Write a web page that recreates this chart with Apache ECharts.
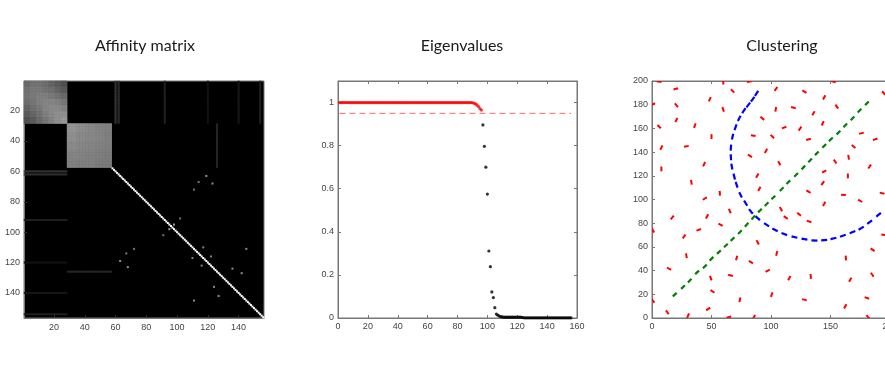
<!DOCTYPE html>
<html>
<head>
<meta charset="utf-8">
<script src="https://cdn.jsdelivr.net/npm/echarts@6/dist/echarts.min.js"></script>
<style>
  html, body { margin: 0; padding: 0; background: #fff; }
  #chart { width: 885px; height: 376px; }
</style>
</head>
<body>
<div id="chart"></div>
<script>
// ---------- affinity matrix (156 x 156, symmetric) ----------
var matrixSize = 156;
// block A: rows/cols 1..28, coarse 7x7 grey levels (each covers 4x4 cells)
var blockA = [1, 28];
var blockAGrid = [
  [0.42, 0.45, 0.46, 0.44, 0.40, 0.36, 0.32],
  [0.45, 0.48, 0.48, 0.46, 0.44, 0.40, 0.36],
  [0.46, 0.48, 0.50, 0.50, 0.48, 0.45, 0.42],
  [0.44, 0.46, 0.50, 0.52, 0.52, 0.50, 0.47],
  [0.40, 0.44, 0.48, 0.52, 0.54, 0.54, 0.52],
  [0.36, 0.40, 0.45, 0.50, 0.54, 0.57, 0.57],
  [0.32, 0.36, 0.42, 0.47, 0.52, 0.57, 0.60]
];
// block B: rows/cols 29..57, coarse grey levels
var blockB = [29, 57];
var blockBGrid = [
  [0.58, 0.56, 0.54, 0.52, 0.51],
  [0.56, 0.54, 0.53, 0.52, 0.50],
  [0.54, 0.53, 0.52, 0.51, 0.50],
  [0.52, 0.52, 0.51, 0.50, 0.49],
  [0.51, 0.50, 0.50, 0.49, 0.49]
];
// singletons on the diagonal
var diagonalRange = [58, 156];
var diagonalValue = 1;
// isolated off-diagonal affinities [i, j, value]
var offDiagonal = [
  [63, 119, 0.55], [67, 114, 0.45], [68, 123, 0.55], [72, 111, 0.45],
  [91, 102, 0.45], [95, 98, 0.6], [110, 117, 0.5], [116, 122, 0.5],
  [124, 136, 0.55], [127, 142, 0.55], [111, 145, 0.55]
];
// faint lines [row, fromCol, toCol, value]
var faintLines = [
  [60, 1, 28, 0.2], [62, 1, 28, 0.18], [92, 1, 28, 0.12], [120, 1, 28, 0.07],
  [126, 29, 57, 0.15], [140, 1, 28, 0.09], [154, 1, 28, 0.12]
];

// ---------- eigenvalues ----------
var eigenRed = [
  1, 1, 1, 1, 1, 1, 1, 1, 1, 1, 1, 1, 1, 1, 1, 1, 1, 1, 1, 1,
  1, 1, 1, 1, 1, 1, 1, 1, 1, 1, 1, 1, 1, 1, 1, 1, 1, 1, 1, 1,
  1, 1, 1, 1, 1, 1, 1, 1, 1, 1, 1, 1, 1, 1, 1, 1, 1, 1, 1, 1,
  1, 1, 1, 1, 1, 1, 1, 1, 1, 1, 1, 1, 1, 1, 1, 1, 1, 1, 1, 1,
  1, 1, 1, 1, 1, 1, 1, 1, 1, 0.999, 0.997, 0.994, 0.989, 0.982, 0.972, 0.965
];
var eigenBlack = [
  0.896, 0.797, 0.700, 0.575, 0.311, 0.238, 0.121, 0.095, 0.048, 0.018,
  0.013, 0.009, 0.006, 0.005, 0.004, 0.004, 0.004, 0.004, 0.004, 0.004,
  0.004, 0.004, 0.004, 0.004, 0.004, 0.004, 0.003, 0.002, 0.001, 0.001,
  0.001, 0.001, 0.001, 0.001, 0.001, 0.001, 0.001, 0.001, 0.001, 0.001,
  0.001, 0.001, 0.001, 0.001, 0.001, 0.001, 0.001, 0.001, 0.001, 0.001,
  0.001, 0.001, 0.001, 0.001, 0.001, 0.001, 0.001, 0.001, 0.001, 0.001
];
var thresholdX = [1, 156];
var thresholdValue = 0.95;

// ---------- clustering: oriented line elements ----------
// red: [x, y, angle in degrees]
var noiseSegments = [
  [6, 199.4, 170], [59.8, 199, 100], [81.7, 199.4, 10], [152.5, 199.4, 165],
  [20, 193.3, 15], [67.7, 191.6, 135], [104.2, 193.3, 55], [128.1, 191, 150],
  [144.7, 186.2, 60], [194.7, 189.8, 130], [0.8, 180.3, 30], [20.5, 179.5, 130],
  [48.6, 184.6, 65], [59.8, 176.1, 110], [92.7, 168.5, 140], [104, 176.1, 80],
  [118.8, 177.5, 165], [135.7, 172.8, 60], [155.3, 178.4, 125], [6, 161.5, 135],
  [20.5, 167.1, 65], [36, 162.4, 70], [50, 153.1, 90], [7.9, 143.8, 60],
  [28.9, 144.9, 10], [85.1, 153.9, 170], [101.1, 153.1, 135], [111, 160.7, 20],
  [124.4, 159.8, 55], [131.5, 150.8, 15], [143.5, 164.3, 65], [176, 155.9, 15],
  [187.6, 150.8, 20], [7.9, 125.8, 90], [33.1, 114.6, 100], [43.8, 129.8, 65],
  [82.3, 136.8, 150], [95.8, 141, 60], [107, 130.6, 120], [144.7, 123.6, 30],
  [153.9, 132, 125], [165.2, 135.7, 100], [169.4, 144.7, 140], [182.9, 127.8, 55],
  [88.5, 120.2, 60], [90.2, 109, 60], [131.5, 106.7, 150], [143.5, 113.8, 55],
  [164.6, 119.9, 90], [160.9, 103.9, 175], [174.9, 98.9, 150], [193.3, 105.3, 165],
  [44.4, 100.8, 30], [57, 105.3, 95], [46.3, 85.7, 60], [65.4, 90.2, 115],
  [17, 84.8, 50], [108.4, 91.9, 120], [112.4, 84.8, 145], [123.6, 87.6, 140],
  [132, 81.5, 160], [144.7, 96.3, 60], [57.6, 78.7, 150], [39.3, 74.4, 20],
  [0.8, 73.9, 120], [27, 68.8, 55], [88.8, 63.8, 120], [104.8, 54.5, 75],
  [71.1, 50.6, 75], [83.1, 47.2, 150], [28.9, 52.5, 100], [14.3, 41.6, 150],
  [49.4, 33.7, 110], [66, 36, 165], [97.2, 39.9, 30], [115.4, 33.7, 60],
  [133.4, 35.1, 95], [162.9, 50.6, 95], [185.4, 57.6, 145], [194.7, 70.2, 170],
  [166.6, 32.3, 60], [185.1, 36.5, 125], [0.8, 14.6, 130], [12.9, 4.8, 125],
  [30.3, 2, 65], [47.2, 7.6, 35], [50.8, 22.5, 145], [73.9, 15.4, 80],
  [100.6, 19.7, 70], [128.1, 15.4, 165], [64.6, 0.8, 15], [85.7, 0.8, 60],
  [162.4, 9.8, 60], [180.6, 16.9, 160], [181.5, 0.8, 130]
];
// blue: elements along the arc
var arcPoints = [
  [87.9, 189.6], [84.6, 184.6], [80.9, 179.8], [77.2, 175], [73.3, 168.5],
  [70.2, 161], [67.7, 153.1], [66.3, 143.8], [66.3, 135.7], [67.1, 127.8],
  [69.1, 119.4], [71.1, 112.4], [74.4, 103.9], [78.7, 96.9], [83.1, 89.9],
  [88.8, 84.3], [96.3, 78.7], [103.4, 74.4], [111.2, 70.8], [119.7, 68.3],
  [128.1, 66.6], [136.5, 65.4], [144.7, 65.7], [152.5, 67.1], [160.4, 69.4],
  [168.5, 72.5], [175.8, 75.8], [182.9, 80.9], [190.4, 87.1]
];
// green: elements along the diagonal line
var linePoints = [
  [19.1, 19.7], [26.1, 26.1], [31.7, 31.5], [37.9, 38.5], [44.4, 43.5],
  [50, 50], [56.2, 55.6], [62.1, 61.2], [67.7, 66.6], [73.9, 72.5],
  [79.5, 78.7], [85.1, 84.8], [90.7, 90.7], [96.3, 96.1], [102, 101.7],
  [109, 108.7], [114.6, 114.6], [121.1, 120.8], [127.2, 127], [132.9, 133.1],
  [138.5, 139], [144.7, 145.2], [150.3, 150.8], [156.7, 156.5], [162.4, 162.6],
  [168.5, 168.5], [174.4, 175], [180.6, 181.2]
];

// ---------- build heatmap cells ----------
var cells = {};
function setCell(i, j, v) {
  cells[(i - 1) + ',' + (j - 1)] = v;
  cells[(j - 1) + ',' + (i - 1)] = v;
}
function fillBlock(range, grid) {
  var size = range[1] - range[0] + 1;
  var n = grid.length;
  for (var i = range[0]; i <= range[1]; i++) {
    for (var j = range[0]; j <= range[1]; j++) {
      var gi = Math.min(n - 1, Math.floor((i - range[0]) * n / size));
      var gj = Math.min(n - 1, Math.floor((j - range[0]) * n / size));
      cells[(j - 1) + ',' + (i - 1)] = grid[gi][gj];
    }
  }
}
faintLines.forEach(function (l) {
  for (var c = l[1]; c <= l[2]; c++) setCell(l[0], c, l[3]);
});
fillBlock(blockA, blockAGrid);
fillBlock(blockB, blockBGrid);
for (var d = diagonalRange[0]; d <= diagonalRange[1]; d++) setCell(d, d, diagonalValue);
offDiagonal.forEach(function (p) { setCell(p[0], p[1], p[2]); });

var heatData = [];
Object.keys(cells).forEach(function (k) {
  var p = k.split(',');
  heatData.push([+p[0], +p[1], cells[k]]);
});
var categories = [];
for (var c = 1; c <= matrixSize; c++) categories.push(String(c));

var redData = eigenRed.map(function (v, i) { return [i + 1, v]; });
var blackData = eigenBlack.map(function (v, i) { return [eigenRed.length + i + 1, v]; });

// ---------- styles ----------
var labelStyle = { color: '#444', fontSize: 9, fontFamily: 'Liberation Sans' };
var lineColor = '#777';
function every20(idx, val) { return Number(val) % 20 === 0; }

function valueAxis(grid, pos, min, max, step, labels) {
  return {
    type: 'value', gridIndex: grid, position: pos, min: min, max: max, interval: step,
    axisLine: { show: true, onZero: false, lineStyle: { color: lineColor } },
    axisTick: { show: true, inside: true, length: 3, lineStyle: { color: lineColor } },
    axisLabel: Object.assign({ show: labels, margin: 4, showMaxLabel: max % step === 0 }, labelStyle),
    splitLine: { show: false }
  };
}

function segmentRenderer(color, halfLen, width) {
  return function (params, api) {
    var c = api.coord([api.value(0), api.value(1)]);
    var a = api.value(2) * Math.PI / 180;
    var dx = halfLen * Math.cos(a), dy = halfLen * Math.sin(a);
    return {
      type: 'line',
      shape: { x1: c[0] - dx, y1: c[1] + dy, x2: c[0] + dx, y2: c[1] - dy },
      style: { stroke: color, lineWidth: width, lineCap: 'butt' }
    };
  };
}
function pathRenderer(points, color, halfLen, width) {
  return function (params, api) {
    var i = params.dataIndex;
    var p0 = api.coord(points[Math.max(0, i - 1)]);
    var p1 = api.coord(points[Math.min(points.length - 1, i + 1)]);
    var c = api.coord(points[i]);
    var len = Math.hypot(p1[0] - p0[0], p1[1] - p0[1]) || 1;
    var ux = (p1[0] - p0[0]) / len * halfLen, uy = (p1[1] - p0[1]) / len * halfLen;
    return {
      type: 'line',
      shape: { x1: c[0] - ux, y1: c[1] - uy, x2: c[0] + ux, y2: c[1] + uy },
      style: { stroke: color, lineWidth: width, lineCap: 'butt' }
    };
  };
}

var titleStyle = { fontFamily: 'Lato', fontSize: 16, fontWeight: 'normal', color: '#1a1a1a' };

var option = {
  animation: false,
  backgroundColor: '#fff',
  textStyle: { fontFamily: 'Liberation Sans' },
  title: [
    { text: 'Affinity matrix', left: 140, top: 33, textAlign: 'center', textStyle: titleStyle },
    { text: 'Eigenvalues', left: 457, top: 33, textAlign: 'center', textStyle: titleStyle },
    { text: 'Clustering', left: 777, top: 33, textAlign: 'center', textStyle: titleStyle }
  ],
  grid: [
    { left: 24, top: 81, width: 240, height: 237, outerBoundsMode: 'none', show: true, backgroundColor: '#000', borderColor: lineColor, borderWidth: 1 },
    { left: 338, top: 81, width: 239, height: 237, outerBoundsMode: 'none', show: true, borderColor: lineColor, borderWidth: 1 },
    { left: 652, top: 81, width: 238, height: 237, outerBoundsMode: 'none', show: true, borderColor: lineColor, borderWidth: 1 }
  ],
  visualMap: {
    show: false, type: 'continuous', seriesIndex: 0, min: 0, max: 1,
    inRange: { color: ['#000000', '#ffffff'] }
  },
  xAxis: [
    {
      type: 'category', gridIndex: 0, data: categories,
      axisLine: { show: true, lineStyle: { color: lineColor } },
      axisTick: { show: true, inside: true, length: 3, interval: every20, alignWithLabel: true, lineStyle: { color: '#333' } },
      axisLabel: Object.assign({ interval: every20, margin: 5 }, labelStyle),
      splitLine: { show: false }
    },
    valueAxis(1, 'bottom', 0, 160, 20, true),
    valueAxis(1, 'top', 0, 160, 20, false),
    valueAxis(2, 'bottom', 0, 200, 50, true),
    valueAxis(2, 'top', 0, 200, 50, false)
  ],
  yAxis: [
    {
      type: 'category', gridIndex: 0, data: categories, inverse: true,
      axisLine: { show: true, lineStyle: { color: lineColor } },
      axisTick: { show: true, inside: true, length: 3, interval: every20, alignWithLabel: true, lineStyle: { color: '#333' } },
      axisLabel: Object.assign({ interval: every20, margin: 4 }, labelStyle),
      splitLine: { show: false }
    },
    valueAxis(1, 'left', 0, 1.1, 0.2, true),
    valueAxis(1, 'right', 0, 1.1, 0.2, false),
    valueAxis(2, 'left', 0, 200, 20, true),
    valueAxis(2, 'right', 0, 200, 20, false)
  ],
  series: [
    {
      type: 'heatmap', xAxisIndex: 0, yAxisIndex: 0, data: heatData,
      progressive: 0, emphasis: { disabled: true }
    },
    {
      type: 'line', xAxisIndex: 1, yAxisIndex: 1, symbol: 'none',
      data: thresholdX.map(function (x) { return [x, thresholdValue]; }),
      lineStyle: { color: '#f06a6a', width: 1, type: [6, 4] }
    },
    {
      type: 'scatter', xAxisIndex: 1, yAxisIndex: 1, data: redData,
      symbol: 'circle', symbolSize: 3.2, itemStyle: { color: '#ff0000' }
    },
    {
      type: 'scatter', xAxisIndex: 1, yAxisIndex: 1, data: blackData,
      symbol: 'circle', symbolSize: 3.2, itemStyle: { color: '#000000' }
    },
    {
      type: 'custom', xAxisIndex: 3, yAxisIndex: 3, clip: true,
      data: noiseSegments, renderItem: segmentRenderer('#ff0000', 2.4, 2)
    },
    {
      type: 'custom', xAxisIndex: 3, yAxisIndex: 3, clip: true,
      data: arcPoints, renderItem: pathRenderer(arcPoints, '#0000ff', 3, 2.2)
    },
    {
      type: 'custom', xAxisIndex: 3, yAxisIndex: 3, clip: true,
      data: linePoints, renderItem: pathRenderer(linePoints, '#008000', 2.6, 2.2)
    }
  ]
};

var myChart = echarts.init(document.getElementById('chart'));
myChart.setOption(option);
</script>
</body>
</html>
